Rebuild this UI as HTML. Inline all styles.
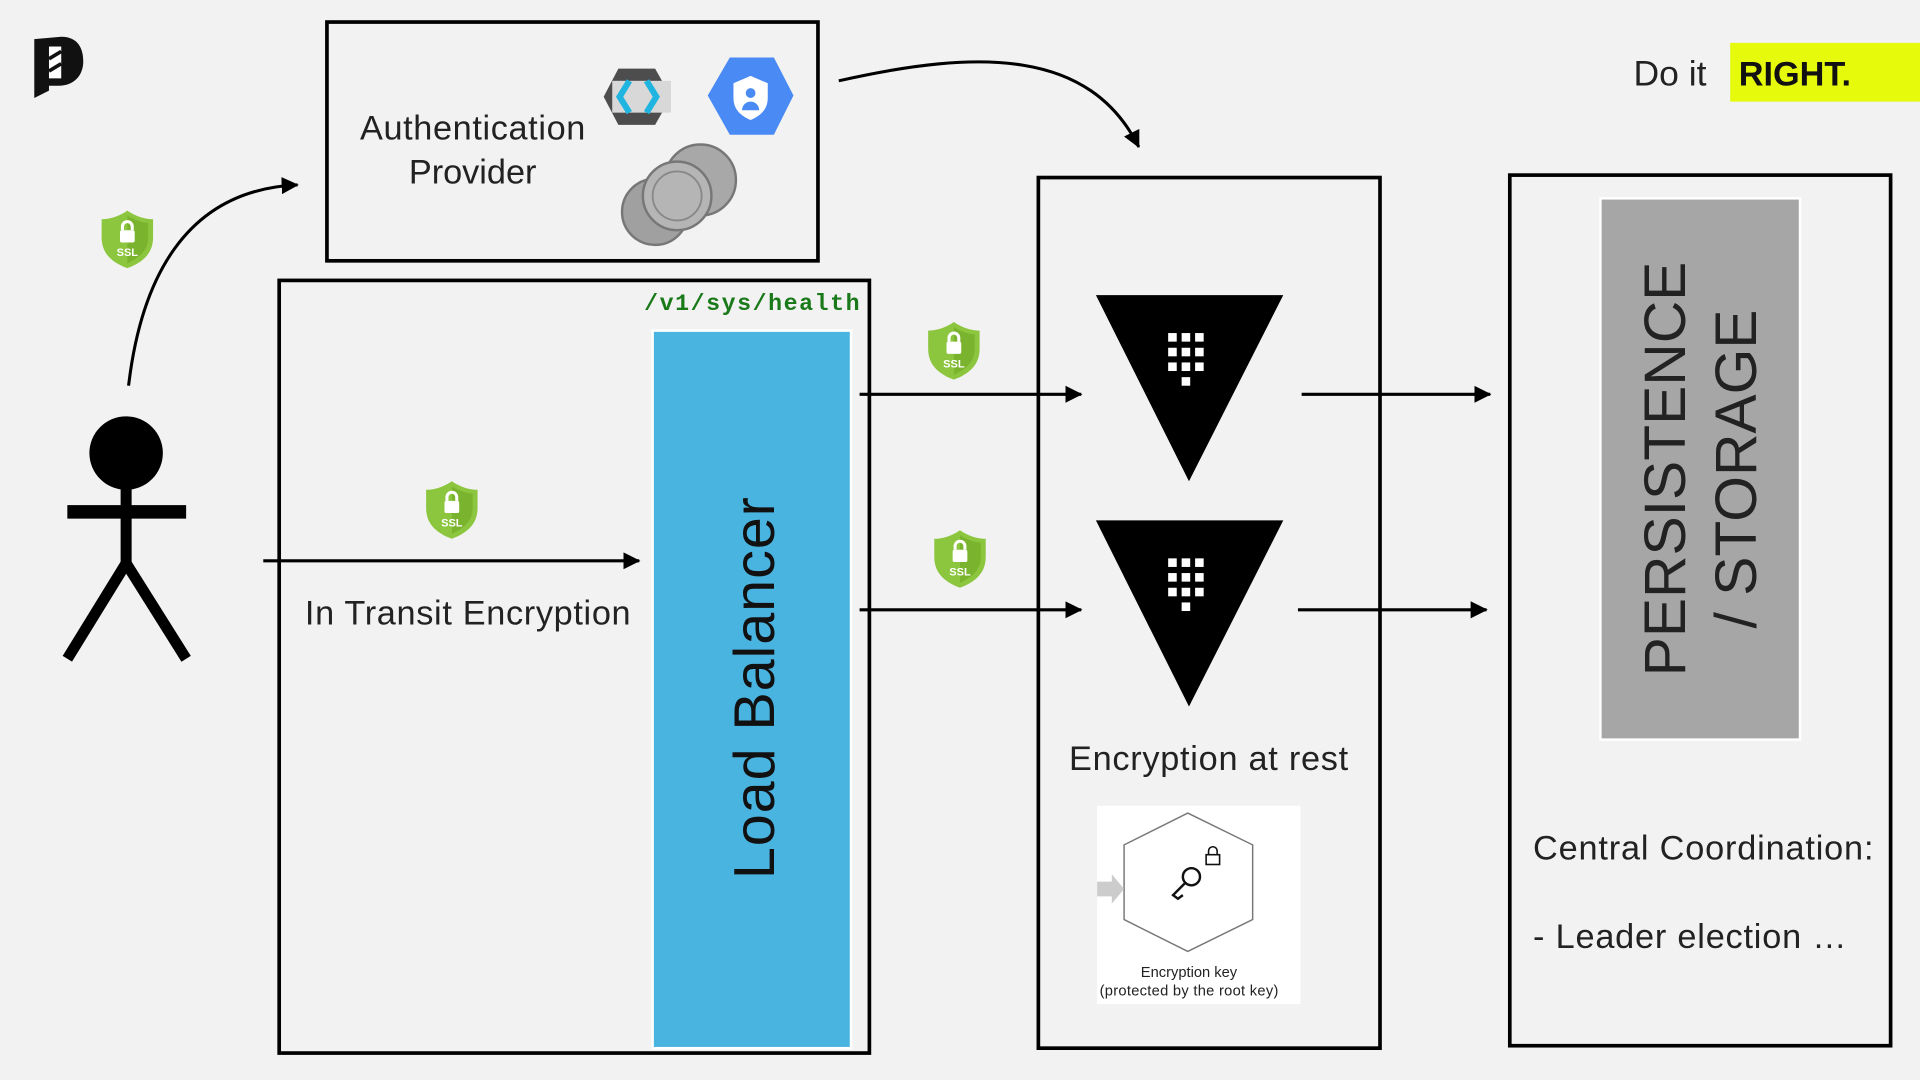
<!DOCTYPE html>
<html><head><meta charset="utf-8"><style>
html,body{margin:0;padding:0;background:#f2f2f2;width:1920px;height:1080px;overflow:hidden}
svg{display:block}
text{font-family:"Liberation Sans",sans-serif}
text.mono{font-family:"Liberation Mono",monospace}
</style></head><body>
<svg width="1920" height="1080" viewBox="0 0 1568 882" xmlns="http://www.w3.org/2000/svg">
<defs>
<marker id="ah2" markerWidth="14" markerHeight="14" refX="13" refY="7" orient="auto" markerUnits="userSpaceOnUse"><path d="M0,0 L14,7 L0,14 Z" fill="#000"/></marker>
<g id="ssl">
<path d="M21,0 C28,5 36,7 42,7 L42,22 C42,36 32,43 21,47 C10,43 0,36 0,22 L0,7 C6,7 14,5 21,0Z" fill="#8cc63f"/>
<path d="M21,4 C27,8 34,10 38,10 L38,22 C38,33 30,39 21,43 Z" fill="#7ab32e"/>
<rect x="15" y="16" width="12" height="10" rx="1.5" fill="#fff"/>
<path d="M17,16 v-3 a4,4 0 0 1 8,0 v3" stroke="#fff" stroke-width="2.5" fill="none"/>
<text x="21" y="37" font-size="9" font-weight="bold" fill="#fff" text-anchor="middle">SSL</text>
</g>
<g id="vault">
<path d="M0,0 L153,0 L76,152 Z" fill="#000"/>
<g fill="#fff">
<rect x="59" y="31" width="7" height="7"/><rect x="70" y="31" width="7" height="7"/><rect x="81" y="31" width="7" height="7"/>
<rect x="59" y="43" width="7" height="7"/><rect x="70" y="43" width="7" height="7"/><rect x="81" y="43" width="7" height="7"/>
<rect x="59" y="55" width="7" height="7"/><rect x="70" y="55" width="7" height="7"/><rect x="81" y="55" width="7" height="7"/>
<rect x="70" y="67" width="7" height="7"/>
</g>
</g>
</defs>
<rect width="1568" height="882" fill="#f2f2f2"/>

<path d="M28,32 L50,30 C64,30 68,40 68,50 C68,62 60,70 48,70 L40,70 L40,74 L28,80 Z" fill="#111"/>
<rect x="40" y="38" width="10" height="26" fill="#fff"/>
<path d="M40,48 L50,42 M40,58 L50,52" stroke="#111" stroke-width="3"/>

<text x="1334" y="70" font-size="29" fill="#222">Do it</text>
<rect x="1413" y="35" width="155" height="48" fill="#e6fa0c"/>
<text x="1420" y="70" font-size="28" font-weight="bold" fill="#111">RIGHT.</text>

<rect x="267" y="18" width="401" height="195" fill="none" stroke="#000" stroke-width="3"/>
<text x="386" y="114" font-size="28" fill="#222" text-anchor="middle" textLength="184">Authentication</text>
<text x="386" y="150" font-size="28" fill="#222" text-anchor="middle">Provider</text>
<path d="M505,56 L535,56 L548,79 L535,102 L505,102 L493,79 Z" fill="#4d4d4d"/>
<rect x="500" y="66" width="48" height="26" fill="#d8d8d8"/>
<path d="M514,66 L506,79 L514,92 M528,66 L536,79 L528,92" stroke="#1fb5e0" stroke-width="5" fill="none"/>
<path d="M596,47 L632,47 L648,78 L632,110 L596,110 L578,78 Z" fill="#4a8af4"/>
<path d="M613,62 L627,68 L627,80 C627,90 620,95 613,98 C606,95 599,90 599,80 L599,68 Z" fill="#fff"/>
<circle cx="613" cy="76" r="4" fill="#4a8af4"/><path d="M606,90 a7,7 0 0 1 14,0" fill="#4a8af4"/>
<circle cx="572" cy="147" r="29" fill="#a8a8a8" stroke="#777" stroke-width="2"/>
<circle cx="535" cy="173" r="27" fill="#a0a0a0" stroke="#777" stroke-width="2"/>
<circle cx="553" cy="160" r="28" fill="#b5b5b5" stroke="#777" stroke-width="2"/>
<circle cx="553" cy="160" r="20" fill="none" stroke="#888" stroke-width="1.5"/>

<path d="M685,66 C800,40 890,40 930,120" fill="none" stroke="#000" stroke-width="2.5" marker-end="url(#ah2)"/>
<path d="M105,315 C115,230 150,155 243,151" fill="none" stroke="#000" stroke-width="2.5" marker-end="url(#ah2)"/>
<use href="#ssl" x="83" y="172"/>

<rect x="228" y="229" width="482" height="631" fill="none" stroke="#000" stroke-width="3"/>
<text class="mono" x="526" y="253" font-size="19" font-weight="bold" fill="#1a7a1a" textLength="176">/v1/sys/health</text>
<rect x="533" y="270" width="162" height="586" fill="#4ab4e0" stroke="#fff" stroke-width="2"/>
<text transform="translate(632,562) rotate(-90)" font-size="47" fill="#111" text-anchor="middle" textLength="312">Load Balancer</text>

<circle cx="103" cy="370" r="30" fill="#000"/>
<line x1="103" y1="395" x2="103" y2="462" stroke="#000" stroke-width="9"/>
<line x1="55" y1="418" x2="152" y2="418" stroke="#000" stroke-width="11"/>
<line x1="103" y1="460" x2="55" y2="538" stroke="#000" stroke-width="9"/>
<line x1="103" y1="460" x2="152" y2="538" stroke="#000" stroke-width="9"/>

<line x1="215" y1="458" x2="522" y2="458" stroke="#000" stroke-width="2.5" marker-end="url(#ah2)"/>
<use href="#ssl" x="348" y="393"/>
<text x="382" y="510" font-size="28" fill="#222" text-anchor="middle" textLength="266">In Transit Encryption</text>

<line x1="702" y1="322" x2="883" y2="322" stroke="#000" stroke-width="2.5" marker-end="url(#ah2)"/>
<line x1="702" y1="498" x2="883" y2="498" stroke="#000" stroke-width="2.5" marker-end="url(#ah2)"/>
<use href="#ssl" x="758" y="263"/>
<use href="#ssl" x="763" y="433"/>

<rect x="848" y="145" width="279" height="711" fill="none" stroke="#000" stroke-width="3"/>
<use href="#vault" x="895" y="241"/>
<use href="#vault" x="895" y="425"/>
<text x="987" y="629" font-size="28" fill="#222" text-anchor="middle" textLength="228">Encryption at rest</text>
<rect x="896" y="658" width="166" height="162" fill="#fff"/>
<path d="M970,664 L1023,690 L1023,751 L970,777 L918,751 L918,690 Z" fill="#fff" stroke="#777" stroke-width="1.2"/>
<path d="M896,720 L908,720 L908,714 L918,726 L908,738 L908,732 L896,732 Z" fill="#ccc"/>
<circle cx="973" cy="716" r="7" fill="none" stroke="#111" stroke-width="2"/>
<path d="M968,721 L958,731 L962,734 L966,731" fill="none" stroke="#111" stroke-width="2"/>
<rect x="985" y="698" width="11" height="8" fill="none" stroke="#111" stroke-width="1.3"/>
<path d="M987,698 v-3 a3.5,3.5 0 0 1 7,0 v3" fill="none" stroke="#111" stroke-width="1.3"/>
<text x="971" y="798" font-size="12" fill="#222" text-anchor="middle">Encryption key</text>
<text x="971" y="813" font-size="12" fill="#222" text-anchor="middle" textLength="146">(protected by the root key)</text>

<line x1="1063" y1="322" x2="1217" y2="322" stroke="#000" stroke-width="2.5" marker-end="url(#ah2)"/>
<line x1="1060" y1="498" x2="1214" y2="498" stroke="#000" stroke-width="2.5" marker-end="url(#ah2)"/>

<rect x="1233" y="143" width="311" height="711" fill="none" stroke="#000" stroke-width="3"/>
<rect x="1307" y="162" width="163" height="442" fill="#a6a6a6" stroke="#fff" stroke-width="2"/>
<text transform="translate(1376,383) rotate(-90)" font-size="48" fill="#222" text-anchor="middle">PERSISTENCE</text>
<text transform="translate(1434,383) rotate(-90)" font-size="48" fill="#222" text-anchor="middle">/ STORAGE</text>
<text x="1252" y="702" font-size="28" fill="#222" textLength="278">Central Coordination:</text>
<text x="1252" y="774" font-size="28" fill="#222" textLength="256">- Leader election …</text>
</svg>
</body></html>
